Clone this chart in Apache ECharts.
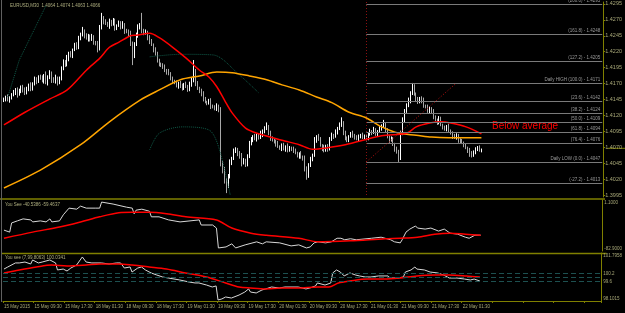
<!DOCTYPE html>
<html>
<head>
<meta charset="utf-8">
<script src="https://cdn.jsdelivr.net/npm/echarts@6/dist/echarts.min.js"></script>
<style>
  html, body { margin: 0; padding: 0; background: #000; }
  #chart { width: 625px; height: 313px; }
</style>
</head>
<body>
<div id="chart"></div>
<script>
// EURUSD M30, closes in pips above 1.3995, open = previous close
const BASE = 1.3995;
const PIP = 0.0001;
const firstOpen = 148;

const timeLabels = ['15 May 2015', '15 May 09:30', '15 May 17:30', '18 May 01:30', '18 May 09:30', '18 May 17:30',
  '19 May 01:30', '19 May 09:30', '19 May 17:30', '20 May 01:30', '20 May 09:30', '20 May 17:30',
  '21 May 01:30', '21 May 09:30', '21 May 17:30', '22 May 01:30'];

const priceTicks = [1.3995, 1.4020, 1.4045, 1.4070, 1.4095, 1.4120, 1.4145, 1.4170, 1.4195, 1.4220, 1.4245, 1.4270, 1.4295];

const closes = [
  150, 154, 149, 153, 157, 160, 166, 158, 163, 170,
  165, 160, 168, 172, 166, 175, 182, 178, 186, 184,
  180, 188, 176, 185, 192, 182, 178, 184, 176, 183,
  198, 210, 205, 215, 222, 218, 228, 236, 232, 245,
  252, 258, 250, 246, 250, 244, 248, 240, 238, 230,
  262, 278, 272, 270, 266, 272, 268, 274, 262, 266,
  270, 264, 268, 258, 256, 252, 238, 218, 236, 250,
  262, 266, 258, 254, 256, 248, 240, 236, 228, 222,
  210, 206, 204, 200, 196, 194, 190, 184, 178, 176,
  172, 176, 170, 168, 174, 170, 166, 172, 180, 195,
  175, 168, 162, 160, 150, 146, 145, 148, 140, 138,
  136, 140, 132, 50, 40, 22, 14, 30, 52, 58,
  68, 72, 65, 60, 50, 55, 48, 60, 82, 86,
  92, 88, 94, 90, 96, 100, 104, 108, 98, 88,
  86, 84, 80, 76, 74, 78, 72, 76, 70, 74,
  72, 70, 66, 62, 64, 60, 58, 42, 30, 48,
  56, 62, 86, 92, 88, 78, 74, 70, 76, 72,
  88, 94, 92, 98, 104, 110, 114, 98, 88, 86,
  92, 96, 94, 90, 88, 92, 94, 90, 92, 88,
  96, 100, 98, 102, 96, 100, 104, 108, 112, 102,
  92, 86, 88, 80, 72, 68, 58, 96, 118, 132,
  140, 148, 160, 172, 158, 150, 146, 152, 148, 140,
  138, 132, 136, 130, 122, 118, 114, 120, 110, 106,
  104, 108, 100, 98, 92, 90, 94, 86, 84, 82,
  78, 74, 70, 66, 62, 68, 72, 75, 70, 71
];

const wickUp = [
  3, 2, 4, 2, 3, 5, 2, 3, 4, 2,  3, 4, 2, 3, 5, 2, 4, 3, 2, 3,
  4, 2, 6, 3, 4, 2, 3, 5, 2, 3,  4, 3, 2, 5, 3, 4, 2, 3, 4, 5,
  3, 6, 2, 4, 3, 2, 5, 3, 2, 4,  5, 8, 3, 4, 2, 5, 3, 4, 3, 2,
  4, 3, 5, 2, 3, 4, 6, 3, 4, 5,  6, 4, 20, 3, 4, 2, 3, 5, 2, 4,
  3, 4, 2, 3, 5, 2, 4, 3, 2, 3,  4, 2, 3, 5, 2, 4, 3, 6, 5, 17,
  3, 4, 2, 5, 3, 4, 2, 3, 4, 2,  3, 4, 2, 6, 3, 4, 5, 3, 4, 2,
  5, 3, 2, 4, 6, 3, 2, 4, 3, 5,  2, 4, 3, 2, 5, 3, 4, 6, 2, 3,
  4, 2, 3, 5, 2, 3, 4, 2, 5, 3,  2, 4, 3, 2, 3, 5, 2, 4, 3, 2,
  4, 3, 5, 2, 4, 3, 2, 5, 3, 4,  3, 4, 2, 5, 3, 4, 8, 2, 3, 4,
  2, 3, 5, 2, 4, 3, 2, 4, 3, 2,  3, 4, 2, 5, 3, 2, 4, 3, 6, 2,
  3, 2, 4, 3, 2, 4, 3, 5, 4, 3,  4, 5, 3, 4, 2, 3, 4, 2, 3, 5,
  2, 4, 3, 2, 5, 3, 2, 4, 3, 2,  3, 2, 4, 3, 2, 4, 3, 2, 3, 4,
  2, 3, 2, 4, 3, 2, 3, 2, 3, 2
];

const wickDn = [
  2, 3, 2, 4, 3, 2, 3, 5, 2, 3,  4, 3, 2, 5, 3, 2, 3, 4, 2, 3,
  3, 5, 2, 4, 3, 6, 2, 3, 4, 2,  3, 2, 4, 3, 5, 2, 3, 2, 4, 3,
  2, 3, 4, 2, 5, 3, 2, 4, 3, 6,  3, 2, 4, 3, 2, 5, 3, 2, 4, 3,
  2, 4, 3, 5, 2, 3, 4, 14, 3, 2, 3, 2, 4, 3, 2, 5, 3, 2, 4, 3,
  2, 4, 3, 2, 3, 5, 2, 4, 3, 2,  3, 5, 2, 4, 3, 2, 4, 3, 2, 3,
  4, 3, 2, 5, 3, 2, 4, 3, 5, 2,  3, 4, 2, 5, 6, 4, 11, 3, 4, 5,
  3, 2, 4, 3, 5, 2, 4, 3, 2, 4,  3, 2, 4, 3, 2, 5, 3, 2, 4, 3,
  2, 3, 4, 2, 3, 5, 2, 4, 3, 2,  3, 4, 2, 3, 5, 3, 4, 5, 6, 3,
  4, 3, 2, 4, 3, 2, 5, 3, 2, 4,  2, 3, 4, 2, 3, 2, 3, 4, 2, 3,
  3, 2, 4, 3, 2, 4, 3, 2, 3, 4,  2, 3, 4, 2, 3, 4, 2, 3, 2, 4,
  3, 4, 2, 3, 4, 3, 6, 3, 2, 4,  3, 2, 4, 3, 2, 4, 3, 2, 4, 3,
  2, 3, 4, 2, 3, 2, 4, 3, 2, 3,  3, 4, 2, 3, 4, 2, 3, 4, 3, 2,
  3, 2, 4, 6, 3, 2, 4, 3, 2, 3
];

// moving averages, [bar, pips above BASE]
const redMa = [[0, 110], [11, 130], [24, 151], [33, 165], [43, 196], [50, 215], [55, 232], [60, 240], [66, 250],
  [69, 251], [76, 254], [81, 247], [88, 232], [95, 215], [102, 196], [107, 185], [111, 170], [115, 149],
  [119, 129], [126, 105], [132, 97], [145, 86], [154, 79], [161, 72], [168, 74], [178, 79], [197, 93],
  [210, 97], [215, 107], [222, 113], [228, 115], [233, 113], [241, 107], [249, 96]];
const orangeMa = [[0, 11], [19, 39], [40, 79], [55, 115], [71, 149], [81, 165], [92, 181], [102, 187], [111, 193],
  [119, 192], [128, 187], [137, 181], [145, 173], [154, 165], [163, 154], [171, 145], [180, 130], [189, 121],
  [197, 107], [206, 97], [215, 94], [223, 91], [232, 90], [249, 90]];
const bandUpper = [[2, 154], [8, 212], [22, 298]];
const bandMid = [[76, 217], [92, 221], [109, 220], [123, 188], [133, 160]];
const bandLower = [[76, 71], [81, 97], [93, 107], [107, 102], [112, 75], [118, 0]];

const fibPrices = [1.4295, 1.4248, 1.4205, 1.4171, 1.4142, 1.4124, 1.4109, 1.4094, 1.4076, 1.4047, 1.4013];
const fibNames = ['(200.0)', '(161.8)', '(127.2)', 'Daily HIGH (100.0)', '(23.6)', '(38.2)', '(50.0)', '(61.8)',
  '(76.4)', 'Daily LOW (0.0)', '(-27.2)'];
const fibStartBar = 189;
const fibEndBar = 236;

// first oscillator pane
const osc1 = [[0, -48.5], [3, -51.8], [4, -36.7], [7, -33.3], [10, -30.0], [14, -31.7], [15, -35.0], [19, -33.3],
  [22, -35.0], [24, -30.0], [25, -35.0], [29, -33.3], [31, -23.3], [34, -12.3], [38, -14.0], [40, -9.0], [43, -12.3],
  [48, -12.3], [50, -12.3], [51, -2.3], [57, -5.6], [64, -10.7], [67, -12.3], [68, -21.6], [69, -15.7], [72, -14.0],
  [76, -17.4], [77, -26.6], [81, -26.6], [86, -31.7], [92, -35.0], [102, -31.7], [103, -40.1], [109, -40.1],
  [111, -45.1], [112, -77.9], [116, -76.2], [119, -71.1], [121, -77.9], [126, -72.8], [132, -67.8], [135, -71.1],
  [137, -67.8], [144, -69.5], [150, -74.5], [154, -72.8], [158, -77.9], [160, -76.2], [162, -69.5], [164, -67.8],
  [168, -69.5], [171, -67.8], [174, -61.9], [176, -61.9], [178, -64.4], [181, -62.7], [184, -64.4], [185, -61.9],
  [192, -61.9], [197, -60.2], [202, -64.4], [204, -67.8], [207, -69.5], [208, -64.4], [210, -51.8], [212, -46.8],
  [215, -41.7], [216, -45.1], [220, -46.8], [223, -45.1], [227, -50.1], [230, -46.8], [233, -53.5], [237, -55.2],
  [241, -60.2], [243, -61.9], [246, -56.9], [249, -56.9]];
const osc1Signal = [[0, -61.9], [15, -51.8], [29, -43.4], [40, -35.0], [50, -26.6], [60, -19.9], [67, -19.1],
  [76, -19.1], [85, -21.6], [95, -26.6], [111, -31.7], [119, -45.1], [129, -53.5], [137, -56.9], [154, -61.9],
  [164, -67.8], [181, -66.1], [199, -62.7], [207, -61.9], [216, -60.2], [225, -55.2], [233, -53.5], [241, -55.2],
  [249, -56.9]];
const osc1Ticks = [-82.9, 1.1];

// second oscillator pane
const osc2 = [[0, 100.56], [2, 100.72], [3, 100.87], [6, 101.03], [8, 101.03], [11, 101.10], [14, 100.95],
  [15, 101.26], [18, 101.03], [20, 101.10], [24, 101.26], [27, 101.03], [28, 100.49], [31, 100.56], [33, 100.41],
  [35, 100.64], [38, 100.87], [41, 101.49], [43, 101.10], [46, 101.03], [51, 101.03], [55, 100.95], [59, 101.03],
  [61, 101.03], [63, 100.64], [66, 100.72], [67, 100.33], [70, 100.64], [72, 100.72], [74, 100.49], [77, 100.26],
  [80, 100.10], [83, 99.95], [86, 99.87], [92, 99.72], [97, 99.56], [100, 99.49], [102, 99.49], [106, 99.33],
  [109, 99.18], [111, 99.26], [112, 98.18], [114, 98.26], [116, 98.41], [119, 98.33], [123, 98.56], [126, 98.79],
  [128, 99.03], [129, 98.79], [132, 98.72], [135, 98.95], [137, 99.03], [140, 99.18], [144, 99.10], [147, 99.18],
  [154, 99.18], [158, 99.03], [160, 99.10], [163, 99.26], [164, 99.49], [168, 99.33], [171, 99.49], [172, 100.26],
  [174, 100.49], [176, 100.33], [178, 100.03], [181, 100.26], [184, 100.10], [186, 100.03], [189, 99.95],
  [192, 99.95], [196, 100.03], [197, 99.95], [201, 100.03], [202, 99.87], [206, 99.87], [209, 99.95], [210, 100.33],
  [213, 100.49], [215, 100.72], [216, 100.56], [220, 100.49], [223, 100.33], [227, 100.26], [230, 100.10],
  [233, 99.87], [237, 99.87], [241, 99.79], [244, 99.72], [246, 99.79], [249, 99.64]];
const osc2Signal = [[0, 100.26], [8, 100.49], [17, 100.72], [25, 100.87], [33, 100.80], [43, 100.87], [50, 100.95],
  [60, 100.95], [67, 100.87], [76, 100.72], [85, 100.56], [95, 100.26], [106, 99.95], [116, 99.49], [123, 99.18],
  [129, 99.10], [137, 99.03], [145, 99.10], [154, 99.10], [164, 99.18], [170, 99.18], [175, 99.49], [181, 99.64],
  [190, 99.79], [199, 99.79], [207, 99.87], [216, 100.03], [225, 100.10], [233, 100.10], [242, 100.03], [249, 99.95]];
const osc2Levels = [100.2, 99.9, 99.6];
const osc2Ticks = [98.1015, 99.6, 100.2, 101.7958];

const SLOTS = 313;
const toPrice = p => +(BASE + p * PIP).toFixed(5);

var chartDom = document.getElementById('chart');
var myChart = echarts.init(chartDom);
var option;

const categories = [];
for (let i = 0; i < SLOTS; i++) categories.push(String(i));

const candles = closes.map((c, i) => {
  const o = i === 0 ? firstOpen : closes[i - 1];
  return [o, c, Math.min(o, c) - wickDn[i], Math.max(o, c) + wickUp[i]].map(toPrice);
});
const asPrice = arr => arr.map(([i, p]) => [i, toPrice(p)]);

const olive = '#808000';
const smallFont = 'Liberation Sans, Arial, sans-serif';
const axisText = { color: '#a8a878', fontSize: 5.5, fontFamily: smallFont };

const xAxisBase = {
  type: 'category',
  data: categories,
  boundaryGap: true,
  axisLine: { show: false },
  axisTick: { show: false },
  axisLabel: { show: false },
  splitLine: { show: false },
};

const yAxisBase = {
  position: 'right',
  scale: true,
  axisLine: { show: true, lineStyle: { color: olive } },
  axisTick: { show: true, length: 2, lineStyle: { color: olive } },
  splitLine: { show: false },
};

option = {
  backgroundColor: '#000',
  animation: false,
  grid: [
    { left: 3, right: 20, top: 2, height: 195 },
    { left: 3, right: 20, top: 200, height: 51 },
    { left: 3, right: 20, top: 253, height: 48 },
  ],
  xAxis: [
    Object.assign({}, xAxisBase, { gridIndex: 0 }),
    Object.assign({}, xAxisBase, { gridIndex: 1 }),
    Object.assign({}, xAxisBase, {
      gridIndex: 2,
      axisLine: { show: true, lineStyle: { color: olive } },
      axisTick: { show: true, interval: 15, length: 2, lineStyle: { color: olive } },
      axisLabel: {
        show: true, interval: 15, align: 'left', margin: 3,
        color: '#a8a878', fontSize: 4.5, fontFamily: smallFont,
        formatter: (v, idx) => timeLabels[idx / 16] || '',
      },
    }),
  ],
  yAxis: [
    Object.assign({}, yAxisBase, {
      gridIndex: 0, type: 'value', min: 1.39919, max: 1.42981,
      axisTick: { show: true, length: 2, lineStyle: { color: olive }, customValues: priceTicks },
      axisLabel: Object.assign({}, axisText, { margin: 2, customValues: priceTicks, formatter: v => v.toFixed(4) }),
    }),
    Object.assign({}, yAxisBase, {
      gridIndex: 1, type: 'value', min: -82.9, max: 1.1,
      axisTick: { show: false },
      axisLabel: Object.assign({}, axisText, {
        margin: 2, fontSize: 4.5, customValues: osc1Ticks, formatter: v => v.toFixed(4),
        verticalAlignMaxLabel: 'top', verticalAlignMinLabel: 'bottom',
      }),
    }),
    Object.assign({}, yAxisBase, {
      gridIndex: 2, type: 'value', min: 98.1015, max: 101.7958,
      axisTick: { show: false },
      axisLabel: Object.assign({}, axisText, {
        margin: 2, fontSize: 4.5, customValues: osc2Ticks, formatter: v => String(v),
        verticalAlignMaxLabel: 'top', verticalAlignMinLabel: 'bottom',
      }),
    }),
  ],
  series: [
    {
      type: 'candlestick',
      xAxisIndex: 0, yAxisIndex: 0,
      data: candles,
      barWidth: 1,
      itemStyle: { color: '#ffffff', color0: '#a8a8a8', borderColor: '#ffffff', borderColor0: '#a8a8a8', borderWidth: 1 },
      markLine: {
        silent: true,
        symbol: 'none',
        lineStyle: { color: '#7a7a7a', width: 1, type: 'solid' },
        label: {
          position: 'insideEndTop', distance: [2, 1], color: '#9a9a9a', fontSize: 4.5, fontFamily: smallFont,
          formatter: p => p.name,
        },
        data: fibPrices.map((v, k) => [
          { coord: [fibStartBar, v], name: fibNames[k] + ' - ' + v.toFixed(4) },
          { coord: [SLOTS - 1, v] },
        ]).concat([
          [
            { coord: [fibStartBar, 1.42981], name: '', lineStyle: { color: '#8b1010', type: [1, 2] } },
            { coord: [fibStartBar, 1.39919] },
          ],
          [
            { coord: [fibStartBar, fibPrices[9]], name: '', lineStyle: { color: '#c01010', type: [1, 2] } },
            { coord: [fibEndBar, fibPrices[3]] },
          ],
        ]),
      },
    },
    { type: 'line', xAxisIndex: 0, yAxisIndex: 0, data: asPrice(bandUpper), symbol: 'none', lineStyle: { color: '#0f5a48', width: 1, type: 'dotted' } },
    { type: 'line', xAxisIndex: 0, yAxisIndex: 0, data: asPrice(bandMid), symbol: 'none', smooth: 0.3, lineStyle: { color: '#0f5a48', width: 1, type: 'dotted' } },
    { type: 'line', xAxisIndex: 0, yAxisIndex: 0, data: asPrice(bandLower), symbol: 'none', smooth: 0.3, lineStyle: { color: '#0f5a48', width: 1, type: 'dotted' } },
    { type: 'line', xAxisIndex: 0, yAxisIndex: 0, data: asPrice(orangeMa), symbol: 'none', smooth: 0.3, lineStyle: { color: '#ffa500', width: 1.5 } },
    { type: 'line', xAxisIndex: 0, yAxisIndex: 0, data: asPrice(redMa), symbol: 'none', smooth: 0.3, lineStyle: { color: '#ff0000', width: 1.5 } },
    { type: 'line', xAxisIndex: 1, yAxisIndex: 1, data: osc1, symbol: 'none', lineStyle: { color: '#d8d8d8', width: 1 } },
    { type: 'line', xAxisIndex: 1, yAxisIndex: 1, data: osc1Signal, symbol: 'none', smooth: 0.3, lineStyle: { color: '#ff0000', width: 1.5 } },
    {
      type: 'line', xAxisIndex: 2, yAxisIndex: 2, data: osc2, symbol: 'none', lineStyle: { color: '#d8d8d8', width: 1 },
      markLine: {
        silent: true, symbol: 'none', label: { show: false },
        lineStyle: { color: '#1d5050', width: 1, type: [5, 3] },
        data: osc2Levels.map(v => ({ yAxis: v })),
      },
    },
    { type: 'line', xAxisIndex: 2, yAxisIndex: 2, data: osc2Signal, symbol: 'none', smooth: 0.3, lineStyle: { color: '#ff0000', width: 1.5 } },
  ],
  graphic: [
    { type: 'line', shape: { x1: 0, y1: 1, x2: 605, y2: 1 }, style: { stroke: olive, lineWidth: 1 } },
    { type: 'line', shape: { x1: 0, y1: 199, x2: 605, y2: 199 }, style: { stroke: olive, lineWidth: 1.5 } },
    { type: 'line', shape: { x1: 0, y1: 252, x2: 605, y2: 252 }, style: { stroke: olive, lineWidth: 1.5 } },
    { type: 'line', shape: { x1: 1.5, y1: 0, x2: 1.5, y2: 302 }, style: { stroke: '#606060', lineWidth: 1 } },
    {
      type: 'text', left: 10, top: 3,
      style: { text: 'EURUSD,M30  1.4064 1.4074 1.4063 1.4066', fill: '#b0b080', fontSize: 4.5, fontFamily: smallFont },
    },
    {
      type: 'text', left: 5, top: 202,
      style: { text: 'You See -40.5386 -59.4637', fill: '#b0b080', fontSize: 4.5, fontFamily: smallFont },
    },
    {
      type: 'text', left: 5, top: 255,
      style: { text: 'You see (7,99.8063) 100.0341', fill: '#b0b080', fontSize: 4.5, fontFamily: smallFont },
    },
    {
      type: 'text', left: 492, top: 121,
      style: { text: 'Below average', fill: '#ff0000', fontSize: 10, fontFamily: 'Liberation Sans, Arial, sans-serif' },
    },
  ],
};

option && myChart.setOption(option);

// price tag of the last close on the right axis
const lastPrice = toPrice(closes[closes.length - 1]);
const tagY = myChart.convertToPixel({ yAxisIndex: 0 }, lastPrice);
myChart.setOption({
  graphic: [
    {
      type: 'group', left: 605, top: tagY - 4,
      children: [
        { type: 'rect', shape: { x: 0, y: 0, width: 17, height: 8 }, style: { fill: '#c8c850' } },
        { type: 'text', x: 1.5, y: 1.5, style: { text: lastPrice.toFixed(4), fill: '#000', fontSize: 5.5, fontFamily: smallFont } },
      ],
    },
  ],
});
</script>
</body>
</html>
